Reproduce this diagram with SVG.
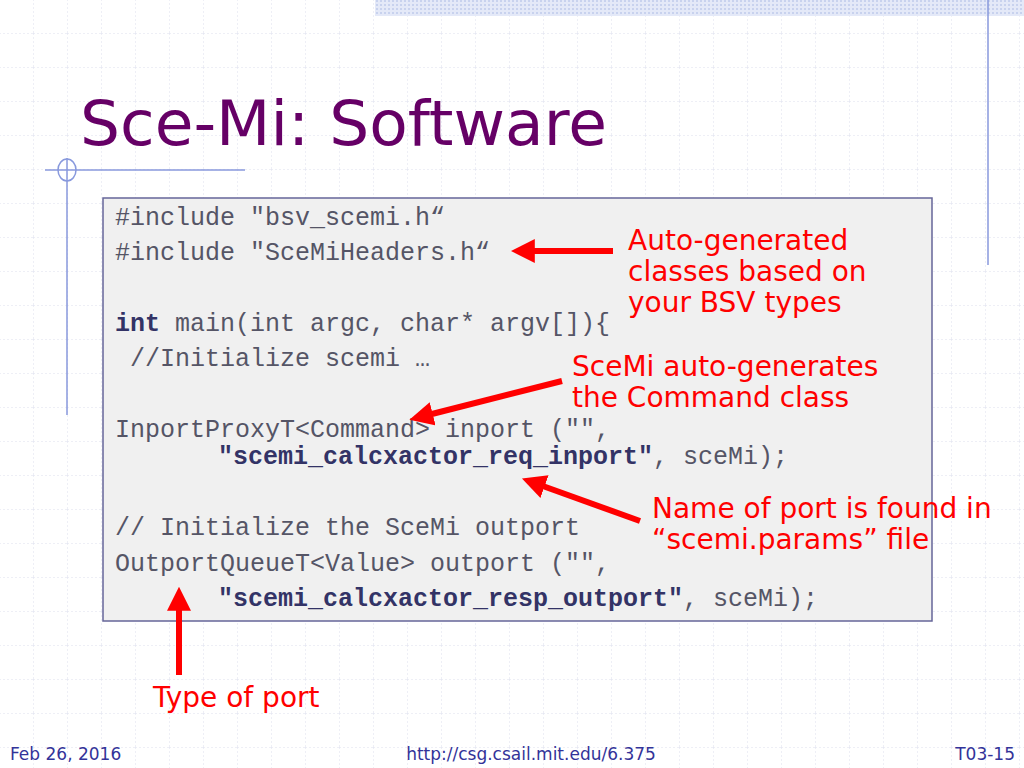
<svg xmlns="http://www.w3.org/2000/svg" width="1024" height="768" viewBox="0 0 1024 768">
<defs>
<pattern id="grid" x="33" y="33" width="34" height="34" patternUnits="userSpaceOnUse">
<path d="M0 0V34M0 0H34" fill="none" stroke="#dde0ee" stroke-width="1" stroke-dasharray="2,2"/>
</pattern>
<pattern id="dots" width="4" height="4" patternUnits="userSpaceOnUse">
<rect width="4" height="4" fill="#e4e9f8"/><rect width="2" height="2" fill="#c8d2ee"/>
</pattern>
<marker id="ah" viewBox="0 0 10 10" refX="2" refY="5" markerWidth="4" markerHeight="4" orient="auto" markerUnits="strokeWidth">
<path d="M0 0L10 5L0 10z" fill="#ff0000"/>
</marker>
<style>
.code{font-family:"Liberation Mono",monospace;font-size:25px;fill:#555566}
.b{font-weight:bold;fill:#333366}
.ann{font-family:"DejaVu Sans",Verdana,sans-serif;font-size:28px;fill:#ff0000}
.foot{font-family:"DejaVu Sans",Verdana,sans-serif;font-size:17px;fill:#333399}
.arr{stroke:#ff0000;stroke-width:6;fill:none;marker-end:url(#ah)}
</style>
</defs>
<rect width="1024" height="768" fill="#ffffff"/>
<rect width="1024" height="768" fill="url(#grid)"/>
<rect x="375" y="0" width="649" height="16" fill="url(#dots)"/>
<line x1="988" y1="0" x2="988" y2="265" stroke="#8899dd" stroke-width="1.5"/>
<line x1="67" y1="158" x2="67" y2="415" stroke="#8899dd" stroke-width="1.5"/>
<line x1="45" y1="170" x2="245" y2="170" stroke="#8899dd" stroke-width="1.5"/>
<ellipse cx="67" cy="170" rx="9" ry="11" fill="none" stroke="#8899dd" stroke-width="1.5"/>
<text x="80" y="145" font-family="DejaVu Sans,Verdana,sans-serif" font-size="63" fill="#660066">Sce-Mi: Software</text>
<g id="codebox">
<rect x="103" y="198" width="829" height="423" fill="#f0f0f0" stroke="#666699" stroke-width="1.5"/>
<text class="code" x="115" y="225">#include "bsv_scemi.h“</text>
<text class="code" x="115" y="260">#include "SceMiHeaders.h“</text>
<text class="code" x="115" y="331"><tspan class="b">int</tspan> main(int argc, char* argv[]){</text>
<text class="code" x="130" y="366">//Initialize scemi …</text>
<text class="code" x="115" y="437">InportProxyT&lt;Command&gt; inport ("",</text>
<text class="code" x="218" y="464"><tspan class="b">"scemi_calcxactor_req_inport"</tspan>, sceMi);</text>
<text class="code" x="115" y="535">// Initialize the SceMi outport</text>
<text class="code" x="115" y="571">OutportQueueT&lt;Value&gt; outport ("",</text>
<text class="code" x="218" y="606"><tspan class="b">"scemi_calcxactor_resp_outport"</tspan>, sceMi);</text>
</g>
<g id="ann1"><text class="ann" x="628" y="250">Auto-generated</text><text class="ann" x="628" y="281">classes based on</text><text class="ann" x="628" y="312">your BSV types</text></g>
<g id="ann2"><text class="ann" x="572" y="376">SceMi auto-generates</text><text class="ann" x="572" y="407">the Command class</text></g>
<g id="ann3"><text class="ann" x="652" y="518">Name of port is found in</text><text class="ann" x="652" y="549">“scemi.params” file</text></g>
<g id="ann4"><text class="ann" x="153" y="707">Type of port</text></g>
<g id="connectors">
<line class="arr" x1="613" y1="251" x2="530" y2="251"/>
<line class="arr" x1="562" y1="381" x2="428" y2="415"/>
<line class="arr" x1="640" y1="521" x2="540" y2="485"/>
<line class="arr" x1="179" y1="675" x2="179" y2="606"/>
</g>
<text class="foot" x="10" y="760">Feb 26, 2016</text>
<text class="foot" x="531" y="760" text-anchor="middle">http://csg.csail.mit.edu/6.375</text>
<text class="foot" x="1015" y="760" text-anchor="end">T03-15</text>
</svg>
